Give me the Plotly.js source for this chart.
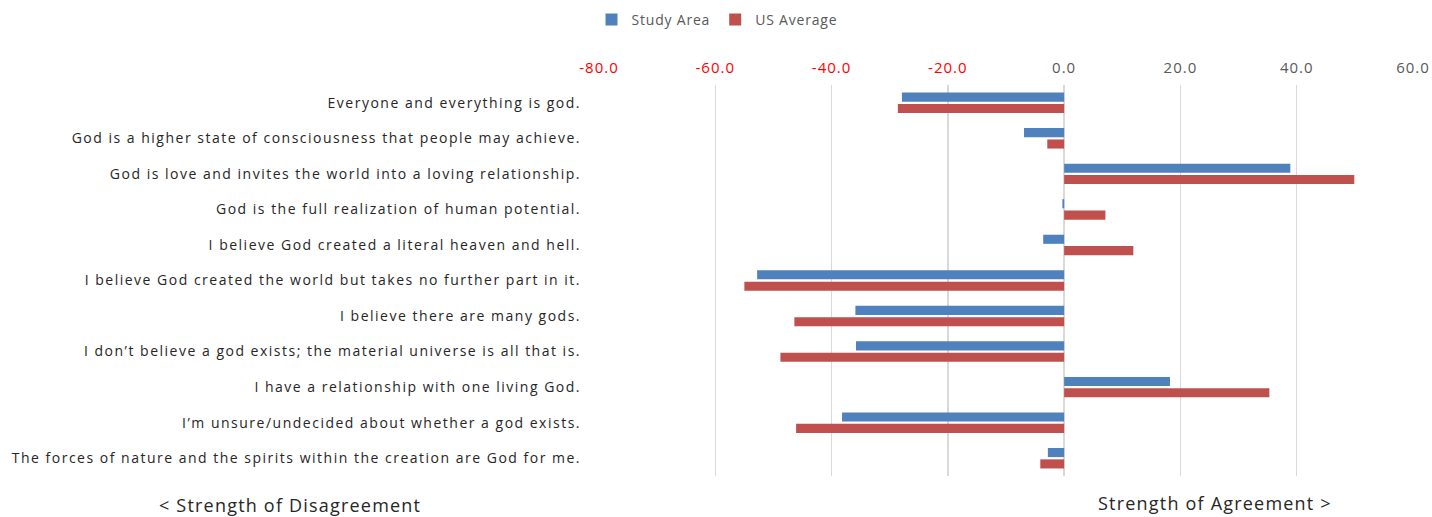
<!DOCTYPE html>
<html><head><meta charset="utf-8">
<script src="https://cdn.plot.ly/plotly-3.0.1.min.js"></script>
<style>
html,body{margin:0;padding:0;background:#fff;}#chart{width:1432px;height:517px;}
.ytick text{letter-spacing:1.5px;}
.xtick text{letter-spacing:1px;}
text.legendtext{letter-spacing:0.8px;}
text.annotation-text{letter-spacing:1.2px;}
</style>
</head><body><div id="chart"></div>
<script>
const categories = [
  "Everyone and everything is god.",
  "God is a higher state of consciousness that people may achieve.",
  "God is love and invites the world into a loving relationship.",
  "God is the full realization of human potential.",
  "I believe God created a literal heaven and hell.",
  "I believe God created the world but takes no further part in it.",
  "I believe there are many gods.",
  "I don’t believe a god exists; the material universe is all that is.",
  "I have a relationship with one living God.",
  "I’m unsure/undecided about whether a god exists.",
  "The forces of nature and the spirits within the creation are God for me."
];
const studyArea = [-27.9, -6.9, 38.9, -0.3, -3.6, -52.8, -35.9, -35.8, 18.2, -38.2, -2.8];
const usAverage = [-28.6, -2.9, 49.9, 7.1, 11.9, -55.0, -46.4, -48.8, 35.3, -46.1, -4.1];
const tickValues = [-80, -60, -40, -20, 0, 20, 40, 60];
const tickLabels = tickValues.map(v => {
  const s = v.toFixed(1);
  return v < 0 ? '<span style="fill:#FF0000">' + s + '</span>' : s;
});

const traces = [
  {type:'bar', orientation:'h', name:'Study Area', y:categories, x:studyArea, marker:{color:'#4F81BD'}},
  {type:'bar', orientation:'h', name:'US Average', y:categories, x:usAverage, marker:{color:'#C0504D'}}
];
const layout = {
  width:1432, height:517,
  margin:{l:599, r:19, t:85, b:41, autoexpand:false},
  paper_bgcolor:'#fff', plot_bgcolor:'#fff',
  font:{family:'"Open Sans", Lato, sans-serif', color:'#404040'},
  barmode:'group', bargap:0.36, bargroupgap:0.2,
  showlegend:true,
  legend:{orientation:'h', x:(717)/1432, xanchor:'center', y:(517-20)/517, yanchor:'middle',
          xref:'container', yref:'container', font:{size:14, color:'#595959'}, traceorder:'normal',
          itemwidth:30},
  xaxis:{side:'top', range:[-80, 60], tickvals:tickValues, ticktext:tickLabels,
         showgrid:true, gridcolor:'#d9d9d9', gridwidth:1.5, zeroline:true, zerolinecolor:'#d9d9d9', zerolinewidth:1.5,
         tickfont:{size:15, color:'#595959'}, ticks:'', fixedrange:true, showline:false, ticklabelstandoff:8},
  yaxis:{autorange:'reversed', type:'category', tickfont:{size:14, color:'#262626'}, ticks:'',
         showgrid:false, zeroline:false, showline:false, ticklabelstandoff:17},
  annotations:[
    {text:'< Strength of Disagreement', xref:'paper', yref:'paper', x:(290-599)/814, y:-0.075, xanchor:'center', yanchor:'middle',
     showarrow:false, font:{size:18, color:'#262626'}},
    {text:'Strength of Agreement >', xref:'paper', yref:'paper', x:(1215-599)/814, y:-0.068, xanchor:'center', yanchor:'middle',
     showarrow:false, font:{size:18, color:'#262626'}}
  ]
};
Plotly.newPlot('chart', traces, layout, {displayModeBar:false, staticPlot:true});
</script></body></html>
